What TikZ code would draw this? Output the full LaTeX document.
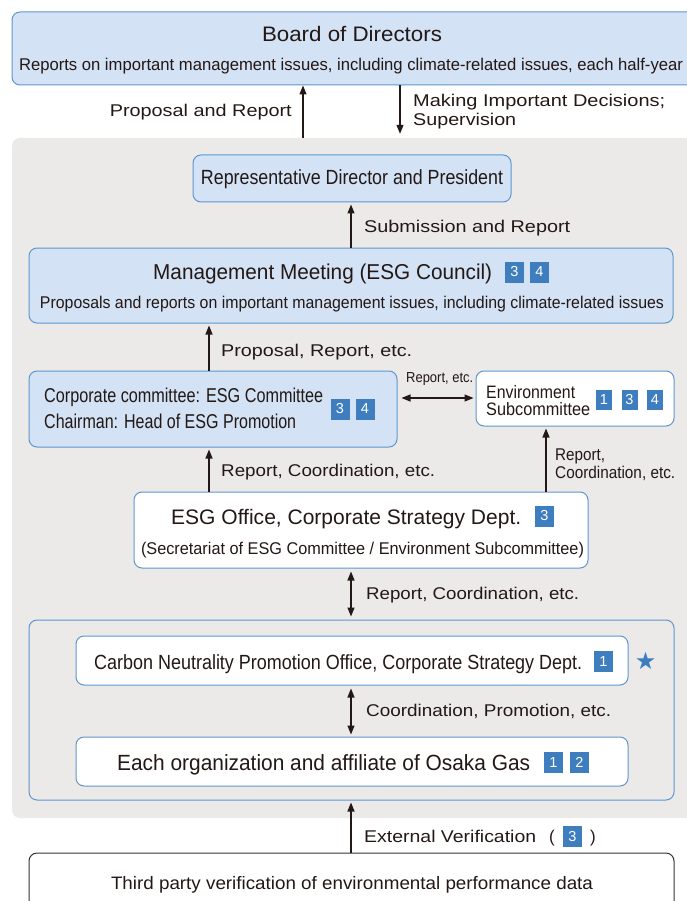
\documentclass[tikz,border=0pt]{standalone}
\usepackage{fontspec}
\usepackage{graphicx}
\setmainfont{Liberation Sans}
\newfontfamily\symfont{DejaVu Sans}
\usetikzlibrary{arrows.meta}
\definecolor{bfill}{HTML}{D3E2F4}
\definecolor{bline}{HTML}{5E97D0}
\definecolor{bgray}{HTML}{EBEAE8}
\definecolor{badgec}{HTML}{3F7EBE}
\definecolor{arrc}{HTML}{231815}
\definecolor{txt}{HTML}{231815}
\makeatletter
\newsavebox\fitbox
\newcommand\fitw[2]{\sbox\fitbox{#2}\pgfmathsetmacro\fitr{#1/\strip@pt\wd\fitbox}\scalebox{\fitr}[1]{\usebox\fitbox}}
\makeatother
\tikzset{
  boxbase/.style={rectangle, rounded corners=8pt, line width=1pt, inner sep=0pt},
  bluebox/.style={boxbase, draw=bline, fill=bfill},
  whitebox/.style={boxbase, draw=bline, fill=white},
  grouprect/.style={boxbase, draw=bline},
  graybg/.style={rectangle, rounded corners=8pt, fill=bgray, inner sep=0pt},
  darkbox/.style={boxbase, draw=black!80, fill=white},
  lbl/.style={inner sep=0pt, text=txt, anchor=base west},
  ctr/.style={inner sep=0pt, text=txt, anchor=base},
  badge/.style={rectangle, fill=badgec, text=white, minimum width=19pt, minimum height=21pt, inner sep=0pt, font=\fontsize{14.5}{14.5}\selectfont},
  up/.style={line width=1.2pt, draw=arrc, -{Triangle[length=9pt,width=7pt]}},
  both/.style={line width=1.2pt, draw=arrc, {Triangle[length=9pt,width=7pt]}-{Triangle[length=9pt,width=7pt]}},
}
\newcommand\boxat[6]{\node[#1, minimum width=#4pt-#2pt, minimum height=#5pt-#3pt] (#6) at ({(#2+#4)/2},{(#3+#5)/2}) {};}
\begin{document}
\begin{tikzpicture}[x=1pt,y=-1pt]
\useasboundingbox (0,0) rectangle (687,901);
% background
\boxat{graybg}{12}{138}{705}{818}{bg}
% boxes
\boxat{bluebox}{12}{12}{705}{85}{board}
\boxat{bluebox}{193}{155}{511}{202}{rep}
\boxat{bluebox}{29}{248}{673}{323}{mgmt}
\boxat{bluebox}{29}{371}{397}{447}{esgc}
\boxat{whitebox}{476}{371}{674}{426}{env}
\boxat{whitebox}{134}{492}{588}{568}{office}
\boxat{grouprect}{29}{620}{674}{800}{group}
\boxat{whitebox}{76}{636}{628}{685}{carbon}
\boxat{whitebox}{76}{737}{628}{786}{org}
\boxat{darkbox}{29}{853}{674}{915}{third}

% texts
\node[ctr, font=\fontsize{21}{21}\selectfont] (tboard) at (352,42) {\fitw{180}{Board of Directors}};
\node[ctr, font=\fontsize{17}{17}\selectfont] (tboard2) at (351,71) {\fitw{664}{Reports on important management issues, including climate-related issues, each half-year}};
\node[inner sep=0pt, text=txt, anchor=base east, font=\fontsize{17}{17}\selectfont] (lprop) at (292,117) {\fitw{182}{Proposal and Report}};
\node[lbl, font=\fontsize{17}{17}\selectfont] (lmake1) at (413,107) {\fitw{252}{Making Important Decisions;}};
\node[lbl, font=\fontsize{17}{17}\selectfont] (lmake2) at (413,126) {\fitw{103}{Supervision}};
\node[ctr, font=\fontsize{20.5}{20.5}\selectfont] (trep) at (352,185) {\fitw{302}{Representative Director and President}};
\node[lbl, font=\fontsize{17}{17}\selectfont] (lsub) at (364,233) {\fitw{206}{Submission and Report}};
\node[lbl, font=\fontsize{21.5}{21.5}\selectfont] (tmgmt) at (153,279) {\fitw{339}{Management Meeting (ESG Council)}};
\node[badge] (bm3) at (514.5,272) {3};
\node[badge] (bm4) at (539.5,272) {4};
\node[ctr, font=\fontsize{17}{17}\selectfont] (tmgmt2) at (352,308) {\fitw{624}{Proposals and reports on important management issues, including climate-related issues}};
\node[lbl, font=\fontsize{17}{17}\selectfont] (lprop2) at (221,356) {\fitw{191}{Proposal, Report, etc.}};
\node[lbl, font=\fontsize{20}{20}\selectfont] (tesg1) at (44,402) {\fitw{279}{Corporate committee: ESG Committee}};
\node[lbl, font=\fontsize{20}{20}\selectfont] (tesg2) at (44,428) {\fitw{252}{Chairman: Head of ESG Promotion}};
\node[badge] (be3) at (340,409) {3};
\node[badge] (be4) at (365,409) {4};
\node[lbl, font=\fontsize{14.5}{14.5}\selectfont] (lrep) at (406,382) {\fitw{67}{Report, etc.}};
\node[lbl, font=\fontsize{18}{18}\selectfont] (tenv1) at (486,398) {\fitw{89}{Environment}};
\node[lbl, font=\fontsize{18}{18}\selectfont] (tenv2) at (486,415) {\fitw{104}{Subcommittee}};
\node[badge, minimum width=16pt, minimum height=20pt] (bv1) at (604,400) {1};
\node[badge, minimum width=16pt, minimum height=20pt] (bv3) at (629.5,400) {3};
\node[badge, minimum width=16pt, minimum height=20pt] (bv4) at (655,400) {4};
\node[lbl, font=\fontsize{17}{17}\selectfont] (lrc) at (221,476) {\fitw{214}{Report, Coordination, etc.}};
\node[lbl, font=\fontsize{17}{17}\selectfont] (lrc2a) at (555,460) {\fitw{50}{Report,}};
\node[lbl, font=\fontsize{17}{17}\selectfont] (lrc2b) at (555,478) {\fitw{120}{Coordination, etc.}};
\node[lbl, font=\fontsize{21}{21}\selectfont] (toff) at (171,524) {\fitw{350}{ESG Office, Corporate Strategy Dept.}};
\node[badge] (bo3) at (544.5,516) {3};
\node[ctr, font=\fontsize{17}{17}\selectfont] (toff2) at (362.5,554) {\fitw{443}{(Secretariat of ESG Committee / Environment Subcommittee)}};
\node[lbl, font=\fontsize{17}{17}\selectfont] (lrc3) at (366,599) {\fitw{213}{Report, Coordination, etc.}};
\node[lbl, font=\fontsize{20.5}{20.5}\selectfont] (tcarb) at (94,669) {\fitw{488}{Carbon Neutrality Promotion Office, Corporate Strategy Dept.}};
\node[badge] (bc1) at (603.5,661.5) {1};
\node[inner sep=0pt, text=badgec, font=\symfont\fontsize{24}{24}\selectfont] (star) at (645.5,661) {★};
\node[lbl, font=\fontsize{17}{17}\selectfont] (lcp) at (366,716) {\fitw{245}{Coordination, Promotion, etc.}};
\node[lbl, font=\fontsize{22}{22}\selectfont] (torg) at (117,770) {\fitw{413}{Each organization and affiliate of Osaka Gas}};
\node[badge] (bg1) at (553.5,762.5) {1};
\node[badge] (bg2) at (579.5,762.5) {2};
\node[lbl, font=\fontsize{17}{17}\selectfont] (lext) at (364,842) {\fitw{172}{External Verification}};
\node[lbl, font=\fontsize{17}{17}\selectfont] (lpo) at (549,842) {(};
\node[badge] (bx3) at (572.5,836) {3};
\node[lbl, font=\fontsize{17}{17}\selectfont] (lpc) at (590,842) {)};
\node[ctr, font=\fontsize{18}{18}\selectfont] (tthird) at (352,889) {\fitw{482}{Third party verification of environmental performance data}};

% connectors
\coordinate (xa) at (303,0);
\coordinate (xb) at (400,0);
\coordinate (xc) at (351,0);
\coordinate (xd) at (209,0);
\coordinate (xe) at (546,0);
\coordinate (ya) at (0,398);
\draw[up] (bg.north -| xa) -- (board.south -| xa);
\draw[up, shorten >=4pt] (board.south -| xb) -- (bg.north -| xb);
\draw[up, shorten >=2pt] (mgmt.north -| xc) -- (rep.south -| xc);
\draw[up, shorten >=2pt] (esgc.north -| xd) -- (mgmt.south -| xd);
\draw[both, shorten >=2pt, shorten <=4pt] (esgc.east |- ya) -- (env.west |- ya);
\draw[up, shorten >=2pt] (office.north -| xd) -- (esgc.south -| xd);
\draw[up, shorten >=2pt] (office.north -| xe) -- (env.south -| xe);
\draw[both, shorten >=3pt, shorten <=3pt] (office.south -| xc) -- (group.north -| xc);
\draw[both, shorten >=2pt, shorten <=3pt] (carbon.south -| xc) -- (org.north -| xc);
\draw[up, shorten >=2pt] (third.north -| xc) -- (group.south -| xc);
\end{tikzpicture}
\end{document}
